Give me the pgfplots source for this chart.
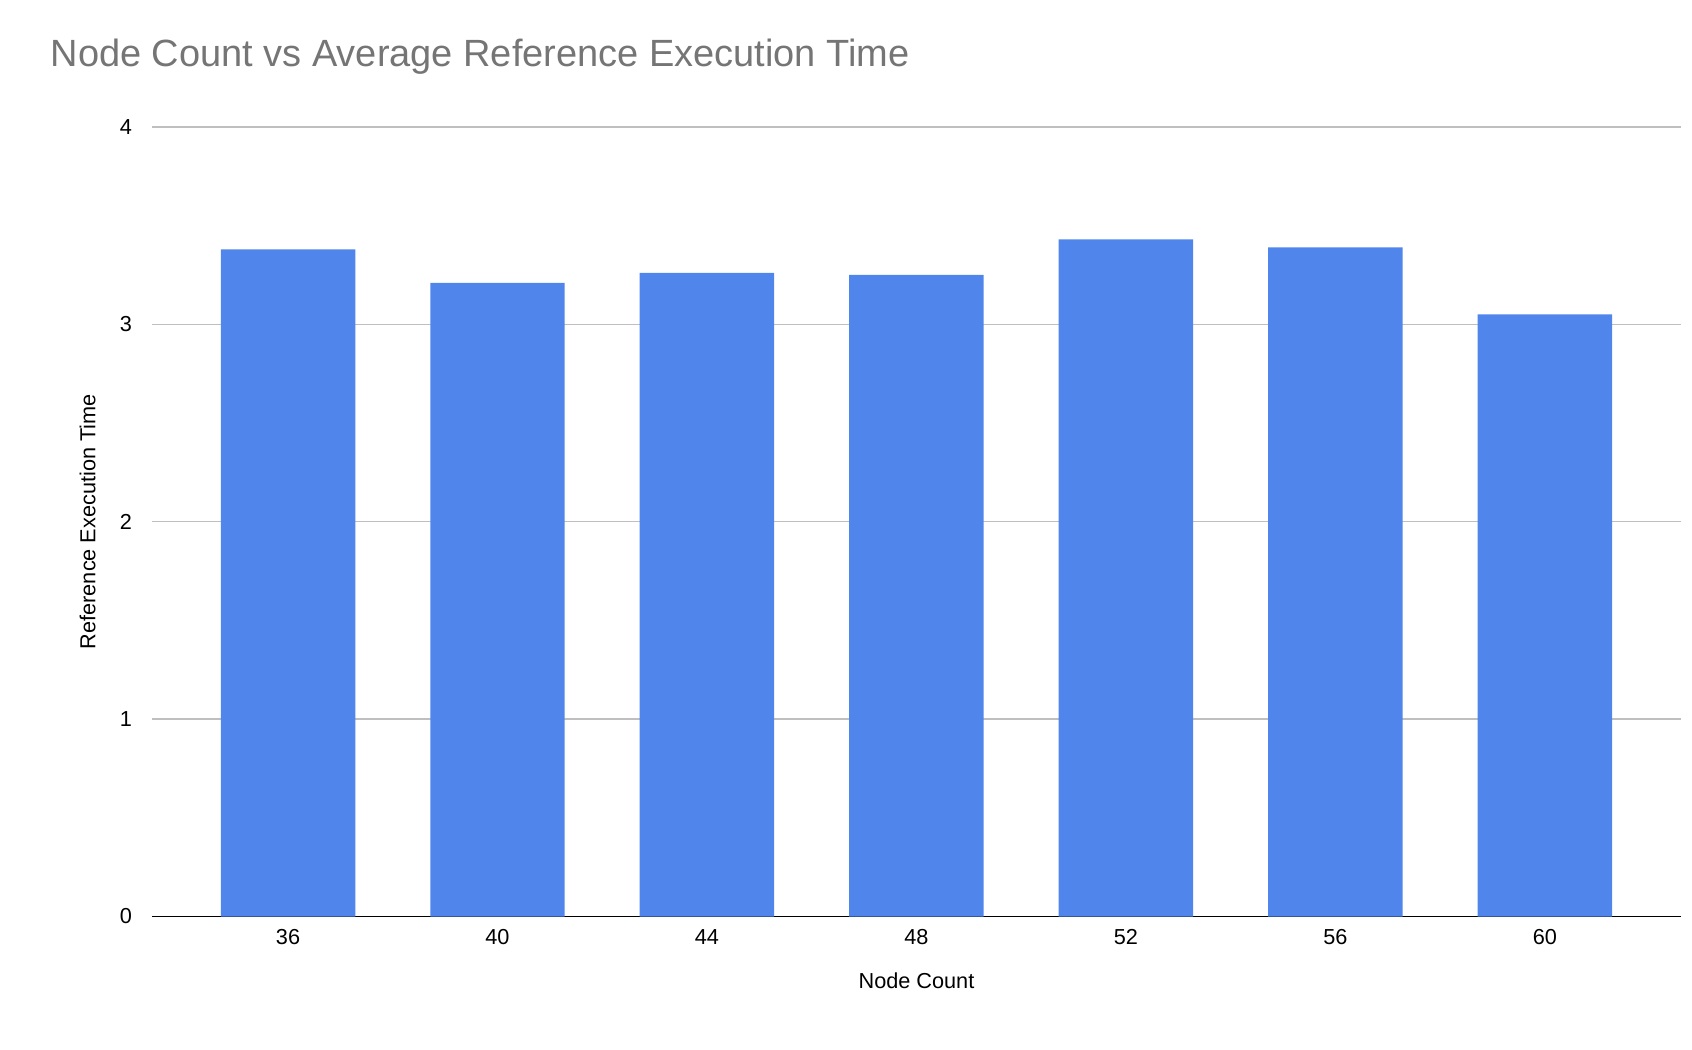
\documentclass[border=0pt]{standalone}
\usepackage{pgfplots}
\pgfplotsset{compat=1.18}
\usepackage{fontspec}
\setmainfont{Liberation Sans}
\definecolor{barblue}{HTML}{5086EC}
\definecolor{titlegray}{HTML}{757575}
\begin{document}
\begin{tikzpicture}[x=0.3pt,y=0.3pt]
\path[use as bounding box] (-140,-123) rectangle (1420,728+117);
\begin{axis}[at={(0,0)},anchor=south west,scale only axis,
 width=423pt,height=218.4pt,
 xmin=-0.65,xmax=6.65,ymin=0,ymax=4,
 ytick={0,1,2,3,4},xtick={0,...,6},xticklabels={36,40,44,48,52,56,60},
 ymajorgrids,grid style={gray!50,line width=0.4pt},
 axis y line*=left,axis x line*=bottom,
 y axis line style={draw=none},x axis line style={black,line width=0.5pt},
 major tick length=0pt,
 tick label style={font=\fontsize{6}{7}\selectfont},
 /pgf/number format/assume math mode=true,
 yticklabel style={xshift=-2pt},
 label style={font=\fontsize{6}{7}\selectfont},
 xlabel={Node Count},ylabel={Reference Execution Time},
 xlabel style={at={(axis description cs:0.5,0)},yshift=-12pt},
 ylabel style={at={(axis description cs:0,0.5)},yshift=12pt},
]
\addplot[ybar,bar width=37.2pt,fill=barblue,draw=none] coordinates {(0,3.38)(1,3.21)(2,3.26)(3,3.25)(4,3.43)(5,3.39)(6,3.05)};
\end{axis}
\node[anchor=west,text=titlegray,font=\fontsize{10.5}{12}\selectfont] at (-105,728+117-52) {Node Count vs Average Reference Execution Time};
\end{tikzpicture}
\end{document}
